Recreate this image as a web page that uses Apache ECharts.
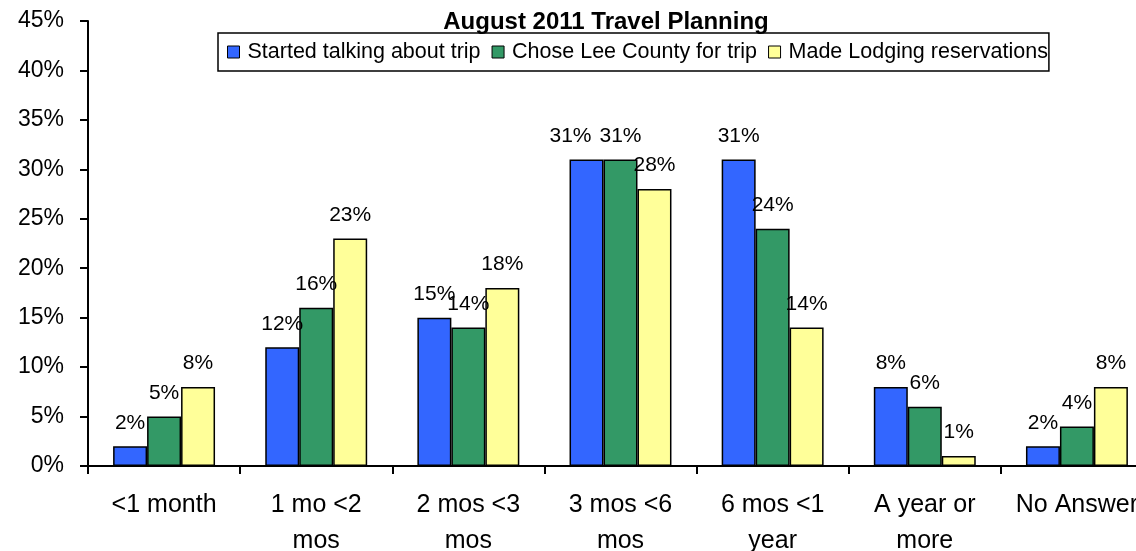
<!DOCTYPE html>
<html>
<head>
<meta charset="utf-8">
<script src="https://cdn.jsdelivr.net/npm/echarts@6/dist/echarts.min.js"></script>
<style>
  html, body { margin: 0; padding: 0; background: #fff; }
  #chart { width: 1136px; height: 551px; }
</style>
</head>
<body>
<div id="chart"></div>
<script>
// Lead time before an August 2011 trip, by planning milestone (percent of respondents)
const categories = ['<1 month', '1 mo <2\nmos', '2 mos <3\nmos', '3 mos <6\nmos', '6 mos <1\nyear', 'A year or\nmore', 'No Answer'];
const startedTalking = [2, 12, 15, 31, 31, 8, 2];
const choseLeeCounty = [5, 16, 14, 31, 24, 6, 4];
const madeLodging = [8, 23, 18, 28, 14, 1, 8];
const seriesNames = ['Started talking about trip', 'Chose Lee County for trip', 'Made Lodging reservations'];
const seriesColors = ['#3366FF', '#339966', '#FFFF99'];

const font = 'Arial, "Liberation Sans", sans-serif';

function barSeries(name, data, color, labelLayout) {
  return {
    name: name,
    type: 'bar',
    data: data,
    barGap: '0%',
    barCategoryGap: '33%',
    itemStyle: { color: color, borderColor: '#000', borderWidth: 1.5 },
    label: {
      show: true,
      position: 'top',
      distance: 13,
      formatter: '{c}%',
      color: '#000',
      fontFamily: font,
      fontSize: 21
    },
    labelLayout: labelLayout
  };
}

// When the first two bars of a group are equally tall their labels would
// print on top of each other, so nudge the first one to the left.
function sideStepTies(params) {
  const i = params.dataIndex;
  return startedTalking[i] === choseLeeCounty[i] ? { dx: -16 } : {};
}

const chart = echarts.init(document.getElementById('chart'), null, { renderer: 'canvas' });
chart.setOption({
  animation: false,
  backgroundColor: '#fff',
  title: {
    text: 'August 2011 Travel Planning',
    left: 601,
    textAlign: 'center',
    top: 5,
    textStyle: { fontFamily: font, fontSize: 24, fontWeight: 'bold', color: '#000' }
  },
  legend: {
    data: seriesNames,
    left: 218,
    top: 33,
    itemWidth: 12,
    itemHeight: 12,
    itemGap: 11,
    padding: [8, 1, 8, 9],
    borderColor: '#000',
    borderWidth: 1.5,
    icon: 'rect',
    itemStyle: { borderColor: '#000', borderWidth: 1 },
    textStyle: { fontFamily: font, fontSize: 21.5, color: '#000', padding: [0, 0, 0, 3] }
  },
  grid: {
    left: 88,
    width: 1065,
    top: 21,
    height: 445,
    containLabel: false,
    outerBoundsMode: 'none'
  },
  xAxis: {
    type: 'category',
    data: categories,
    axisLine: { lineStyle: { color: '#000', width: 2 } },
    axisTick: { show: true, length: 8, lineStyle: { color: '#000', width: 2 } },
    axisLabel: {
      color: '#000',
      fontFamily: font,
      fontSize: 25,
      lineHeight: 36,
      margin: 21,
      interval: 0
    }
  },
  yAxis: {
    type: 'value',
    min: 0,
    max: 45,
    interval: 5,
    axisLine: { show: true, lineStyle: { color: '#000', width: 2 } },
    axisTick: { show: true, length: 8, lineStyle: { color: '#000', width: 2 } },
    splitLine: { show: false },
    axisLabel: {
      formatter: '{value}%',
      color: '#000',
      fontFamily: font,
      fontSize: 23,
      margin: 24
    }
  },
  series: [
    barSeries(seriesNames[0], startedTalking, seriesColors[0], sideStepTies),
    barSeries(seriesNames[1], choseLeeCounty, seriesColors[1]),
    barSeries(seriesNames[2], madeLodging, seriesColors[2])
  ]
});
</script>
</body>
</html>
